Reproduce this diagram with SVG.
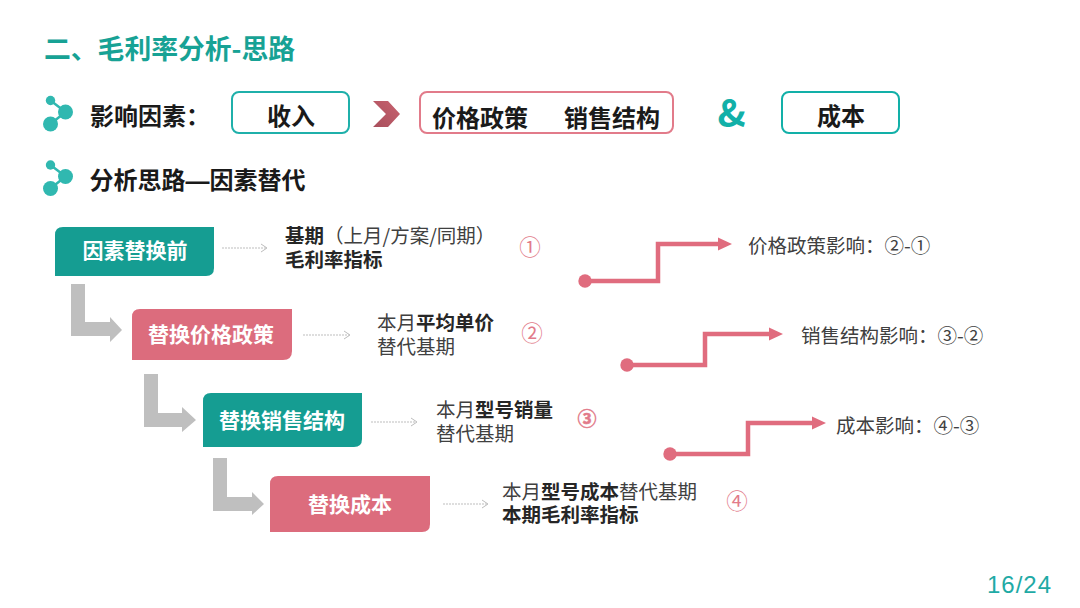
<svg xmlns="http://www.w3.org/2000/svg" width="1080" height="608" viewBox="0 0 1080 608">
<defs>
<style>
text{font-family:"Noto Sans CJK SC","Liberation Sans",sans-serif}
.b{font-weight:700}
.k{fill:#1a1a1a}
.h{font-size:24px}
.t{fill:#404040;font-size:19.5px}
.s{fill:#262626;font-size:19.5px;font-weight:700}
.w{fill:#fff;font-weight:700;font-size:21px;text-anchor:middle}
.n{fill:#e27b8a;font-size:21.5px;text-anchor:middle}
.dash{fill:none;stroke:#bdbdbd;stroke-width:1;stroke-dasharray:2 1}
.dh{fill:none;stroke:#bdbdbd;stroke-width:1}
.gray{fill:#bfbfbf}
.line{fill:none;stroke:#e06c7e;stroke-width:4.5}
.pink{fill:#e06c7e}
</style>
<g id="bullet"><path d="M0 0L15 11.5L0 23.5" fill="none" stroke="#30b8b0" stroke-width="2.5"/><circle cx="0" cy="0" r="4.7" fill="#30b8b0"/><circle cx="15" cy="11.5" r="7.5" fill="#30b8b0"/><circle cx="0" cy="23.5" r="7.5" fill="#30b8b0"/></g>
<linearGradient id="chev" x1="0" x2="1" y1="1" y2="0"><stop offset="0" stop-color="#a84f5c"/><stop offset="1" stop-color="#c8626f"/></linearGradient>
</defs>
<rect width="1080" height="608" fill="#fff"/>
<text id="title" class="b" x="44" y="59" font-size="26.800" fill="#17a295">二、毛利率分析-思路</text>
<g id="factors">
<use href="#bullet" x="50.500" y="100.500"/>
<text class="b k h" x="90" y="125">影响因素：</text>
</g>
<g id="node-income"><rect x="232" y="92" width="117" height="41" rx="7" fill="#fff" stroke="#1fb0aa" stroke-width="2"/><text class="b k h" x="291" y="125" text-anchor="middle">收入</text></g>
<path id="chevron" d="M373 101H388L400 114L388 127H373L386 114Z" fill="url(#chev)"/>
<g id="node-price-mix"><rect x="420" y="92" width="253" height="41" rx="7" fill="#fff" stroke="#e27b8a" stroke-width="2"/><text class="b k h" x="432" y="127">价格政策</text><text class="b k h" x="564" y="127">销售结构</text></g>
<text id="amp" class="b" x="717.500" y="127" font-size="38" fill="#12b0a8">&amp;</text>
<g id="node-cost"><rect x="782" y="92" width="117" height="41" rx="7" fill="#fff" stroke="#12b0a8" stroke-width="2"/><text class="b k h" x="841" y="125" text-anchor="middle">成本</text></g>
<g id="method">
<use href="#bullet" x="50.500" y="165"/>
<text class="b k h" x="89.500" y="189">分析思路<tspan style="font-family:'Liberation Sans',sans-serif">—</tspan>因素替代</text>
</g>
<g id="connectors">
<path class="dash" d="M222 248H266"/><path class="dh" d="M261 244L267 248L261 252"/>
<path class="dash" d="M303 335H349"/><path class="dh" d="M344 331L350 335L344 339"/>
<path class="dash" d="M371 422H416"/><path class="dh" d="M411 418L417 422L411 426"/>
<path class="dash" d="M443 504H487"/><path class="dh" d="M482 500L488 504L482 508"/>
<path class="gray" d="M71 284H85V322H110V317L122 330L110 342V336H71Z"/>
<path class="gray" d="M144 374H158V413H182V407L196 420L182 432V427H144Z"/>
<path class="gray" d="M213 458H227V497H252V492L264 504L252 515V511H213Z"/>
<path class="line" d="M585 281H658V244H720"/><path class="pink" d="M718 237.500L732 244L718 250.500Z"/><circle class="pink" cx="585" cy="281" r="6.700"/>
<path class="line" d="M627 365H705V334H771"/><path class="pink" d="M769 327.500L783 334L769 340.500Z"/><circle class="pink" cx="627" cy="365" r="6.700"/>
<path class="line" d="M670 454H748V423H814"/><path class="pink" d="M812 416.500L826 423L812 429.500Z"/><circle class="pink" cx="670" cy="454" r="6.700"/>
</g>
<g id="node-before"><path d="M63 227H214V268Q214 276 206 276H55V235Q55 227 63 227Z" fill="#159d92"/><text class="w" x="135" y="258">因素替换前</text></g>
<g id="node-price"><path d="M140 309H292V351Q292 360 283 360H132V317Q132 309 140 309Z" fill="#dc6c7d"/><text class="w" x="211" y="342">替换价格政策</text></g>
<g id="node-mix"><path d="M211 393H362V439Q362 447 354 447H203V401Q203 393 211 393Z" fill="#159d92"/><text class="w" x="282" y="427.500">替换销售结构</text></g>
<g id="node-cost2"><path d="M278 476H430V524Q430 532 422 532H270V484Q270 476 278 476Z" fill="#dc6c7d"/><text class="w" x="350" y="511.500">替换成本</text></g>
<g id="label-1"><text class="s" x="285" y="243">基期</text><text class="t" x="324" y="243">（上月/方案/同期）</text><text class="s" x="285" y="267">毛利率指标</text><text class="n" x="530" y="255">①</text></g>
<g id="label-2"><text class="t" x="377" y="330">本月</text><text class="s" x="416" y="330">平均单价</text><text class="t" x="377" y="354">替代基期</text><text class="n" x="532" y="341">②</text></g>
<g id="label-3"><text class="t" x="436" y="417">本月</text><text class="s" x="475" y="417">型号销量</text><text class="t" x="436" y="441">替代基期</text><text class="n b" x="587" y="426" stroke="#e27b8a" stroke-width="0.500" style="font-size:19px">③</text></g>
<g id="label-4"><text class="t" x="502" y="499">本月</text><text class="s" x="541" y="499">型号成本</text><text class="t" x="619" y="499">替代基期</text><text class="s" x="502" y="522">本期毛利率指标</text><text class="n" x="737" y="509">④</text></g>
<text id="effect-1" class="t" x="748" y="253">价格政策影响：②-①</text>
<text id="effect-2" class="t" x="801" y="343">销售结构影响：③-②</text>
<text id="effect-3" class="t" x="836" y="433">成本影响：④-③</text>
<text id="page" x="987" y="593" fill="#1faaa5" letter-spacing="1" style="font-family:'Liberation Sans',sans-serif;font-size:24px">16/24</text>
</svg>
